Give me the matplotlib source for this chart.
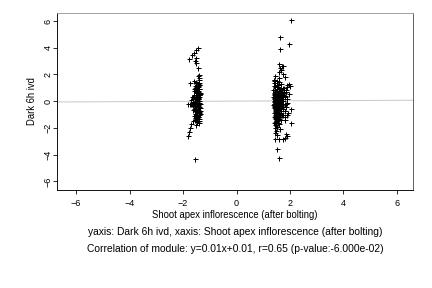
import matplotlib
matplotlib.use("Agg")
import matplotlib.pyplot as plt
import numpy as np

plt.rcParams['font.family'] = ['Liberation Sans', 'DejaVu Sans']

# Left cluster
left_x = [-1.45, -1.52, -1.58, -1.68, -1.78, -1.50, -1.55, -1.50, -1.45, -1.40,
          -1.42, -1.60, -1.75, -1.50, -1.45, -1.40, -1.48, -1.55, -1.42, -1.50,
          -1.60, -1.45, -1.38, -1.52, -1.42, -1.58, -1.48, -1.40, -1.65, -1.50,
          -1.44, -1.55, -1.70, -1.40, -1.50, -1.62, -1.80, -1.75, -1.70, -1.65,
          -1.60, -1.55, -1.50, -1.45, -1.40, -1.38, -1.62, -1.52, -1.47, -1.50,
          -1.42, -1.60, -1.45, -1.55, -1.40, -1.48, -1.52, -1.42, -1.58, -1.45,
          -1.50, -1.40, -1.55, -1.62, -1.48, -1.42, -1.70, -1.52, -1.75, -1.78,
          -1.80, -1.55, -1.46, -1.41, -1.53, -1.44, -1.39, -1.49, -1.43, -1.51,
          -1.47, -1.40, -1.45, -1.50, -1.42, -1.56, -1.44, -1.48, -1.41, -1.46,
          -1.43, -1.52, -1.39, -1.47, -1.42, -1.50, -1.45, -1.41, -1.49, -1.44,
          -1.46, -1.40, -1.52, -1.44, -1.48, -1.42, -1.50, -1.38, -1.54, -1.45,
          -1.58, -1.62, -1.36, -1.57, -1.35, -1.64, -1.37, -1.56]
left_y = [3.95, 3.80, 3.60, 3.45, 3.15, 3.20, 3.00, 2.85, 2.50, 1.95,
          1.75, 1.55, 1.40, 1.45, 1.30, 1.20, 1.10, 1.00, 0.95, 0.85,
          0.75, 0.70, 0.65, 0.60, 0.50, 0.45, 0.40, 0.35, 0.30, 0.25,
          0.20, 0.15, 0.10, 0.05, 0.00, -0.05, -0.22, -0.20, -0.21, -0.20,
          -0.22, -0.19, -0.21, -0.20, -0.22, -0.20, -0.25, -0.24, -0.26, -0.40,
          -0.50, -0.60, -0.65, -0.70, -0.80, -0.90, -1.00, -1.05, -1.10, -1.20,
          -1.30, -1.35, -1.40, -1.50, -1.55, -1.60, -1.70, -1.75, -2.00, -2.30,
          -2.60, -4.30, 1.85, 1.60, 1.35, 1.15, 0.90, 0.80, 0.55, 0.30,
          0.10, -0.10, -0.35, -0.55, -0.75, -0.95, -1.15, -1.25, -0.45, 0.15,
          1.05, 0.68, -0.85, 0.42, -1.45, 0.22, -0.30, 1.25, -0.15, 0.58,
          0.95, 0.48, -0.62, 0.78, -1.05, 1.38, 0.05, -0.72, -0.38, 0.27,
          0.88, 0.32, -0.48, 1.12, -0.92, -0.62, 0.52, -1.22]

# Right cluster
right_x = [1.45, 1.60, 1.52, 1.40, 1.68, 1.55, 1.42, 1.72, 1.50, 1.62,
           1.38, 1.58, 1.47, 1.70, 1.43, 1.65, 1.53, 1.40, 1.75, 1.49,
           1.61, 1.44, 1.56, 1.39, 1.69, 1.51, 1.46, 1.64, 1.41, 1.57,
           1.73, 1.48, 1.42, 1.60, 1.54, 1.39, 1.67, 1.45, 1.58, 1.50,
           1.40, 1.63, 1.47, 1.55, 1.71, 1.43, 1.59, 1.52, 1.38, 1.66,
           1.49, 1.57, 1.41, 1.74, 1.46, 1.62, 1.53, 1.40, 1.68, 1.44,
           1.56, 1.42, 1.65, 1.50, 1.39, 1.60, 1.47, 1.70, 1.45, 1.54,
           1.41, 1.63, 1.48, 1.57, 1.43, 1.66, 1.52, 1.40, 1.58, 1.46,
           1.50, 1.44, 1.62, 1.48, 1.52, 1.58, 1.64, 1.42, 1.70, 1.55,
           1.44, 1.66, 1.40, 1.54, 1.60, 1.47, 1.72, 1.50, 1.43, 1.58,
           1.62, 1.39, 1.56, 1.45, 1.68, 1.41, 1.52, 1.60, 1.48, 1.74,
           1.57, 1.43, 1.65, 1.51, 1.40, 1.55, 1.46, 1.63, 1.49, 1.53,
           1.44, 1.59, 1.47, 1.41, 1.56, 1.64, 1.42, 1.50, 1.69, 1.38,
           1.61, 1.45, 1.53, 1.77, 1.48, 1.67, 1.43, 1.56, 1.51, 1.42,
           1.46, 1.58, 1.41, 1.66, 1.52, 1.44, 1.71, 1.49, 1.39, 1.62,
           1.55, 1.43, 1.68, 1.47, 1.60, 1.40, 1.53, 1.64, 1.45, 1.57,
           1.42, 1.50, 1.61, 1.48, 1.73, 1.44, 1.56, 1.40, 1.65, 1.51,
           2.05, 1.63, 1.95, 1.62, 1.58, 1.70, 1.75, 1.62, 1.68, 1.60,
           1.72, 1.82, 1.88, 1.95, 2.00, 1.90, 1.85, 1.97, 1.82, 1.90,
           1.85, 2.02, 1.92, 1.80, 1.88, 2.05, 1.42, 1.57, 1.72, 1.80,
           1.90, 1.85, 1.53, 1.60, 1.45, 1.50,
           1.40, 1.45, 1.50, 1.55, 1.60, 1.65, 1.70, 1.75, 1.80,
           1.84, 1.80, 1.86, 1.78, 1.83, 1.79, 1.87, 1.81]
right_y = [1.90, 1.70, 1.50, 1.40, 1.30, 1.20, 1.10, 1.00, 0.95, 0.90,
           0.85, 0.80, 0.75, 0.70, 0.65, 0.60, 0.55, 0.50, 0.48, 0.45,
           0.42, 0.40, 0.38, 0.35, 0.32, 0.30, 0.28, 0.25, 0.22, 0.20,
           0.18, 0.15, 0.12, 0.10, 0.08, 0.05, 0.03, 0.00, -0.02, -0.05,
           -0.08, -0.10, -0.12, -0.15, -0.18, -0.20, -0.22, -0.25, -0.28, -0.30,
           -0.32, -0.35, -0.38, -0.40, -0.42, -0.45, -0.48, -0.50, -0.55, -0.60,
           -0.65, -0.70, -0.75, -0.80, -0.85, -0.90, -0.95, -1.00, -1.05, -1.10,
           -1.15, -1.20, -1.25, -1.30, -1.35, -1.40, -1.50, -1.60, -1.70, -1.80,
           -1.90, -2.00, -2.10, -2.20, 0.30, 0.10, -0.10, -0.30, 0.50, -0.50,
           0.00, 0.20, -0.20, 0.40, -0.40, 0.60, -0.60, 0.80, -0.80, 1.00,
           -1.00, 0.15, -0.15, 0.35, -0.35, 0.55, -0.55, 0.75, -0.75, 0.05,
           -0.05, 0.25, -0.25, 0.45, -0.45, 0.65, -0.65, 0.90, -0.90, 1.25,
           -1.25, 1.45, -1.45, 1.60, -1.65, 0.12, -0.12, 0.02, -0.02, 0.33,
           -0.33, 0.50, -0.60, 0.70, -0.70, 0.90, -1.10, 1.10, -1.30, 1.35,
           0.62, -0.42, 1.15, -0.88, 0.28, -1.18, 0.82, -0.18, 1.52, -0.58,
           0.38, -1.52, 0.72, -0.28, -0.98, 1.62, -0.08, 0.48, -1.78, 0.92,
           -0.68, 1.22, -0.38, 0.18, -1.02, 0.08, -1.38, 0.58, -0.48, -1.92,
           6.05, 4.80, 4.25, 3.90, 2.75, 2.65, 2.60, 2.45, 2.30, 2.15,
           2.00, 1.80, 1.25, 1.30, 1.15, 1.05, 0.70, 0.55, 0.40, 0.15,
           -0.20, -0.60, -0.90, -0.75, -1.05, -1.65, -2.85, -2.85, -2.85, -2.75,
           -2.60, -2.45, -3.58, -4.25, -2.40, -2.55,
           -0.20, -0.20, -0.20, -0.20, -0.20, -0.20, -0.20, -0.20, -0.20,
           0.85, 0.35, -0.45, 1.00, -1.20, 0.60, -0.10, -1.40]

x_ticks = [-6, -4, -2, 0, 2, 4, 6]
y_ticks = [-6, -4, -2, 0, 2, 4, 6]
slope, intercept = 0.01, 0.01

fig = plt.figure(figsize=(6, 4), dpi=72)
ax = fig.add_axes([0.133, 0.342, 0.823, 0.613])

xs = left_x + right_x
ys = left_y + right_y
ax.plot(xs, ys, '+', color='black', markersize=5, markeredgewidth=1.0)

xl = np.array([-6.7, 6.6])
ax.plot(xl, slope * xl + intercept, color='#c8c8c8', lw=1, zorder=0)

ax.set_xlim(-6.7, 6.6)
ax.set_ylim(-6.6, 6.6)
ax.set_xticks(x_ticks)
ax.set_yticks(y_ticks)
ax.tick_params(direction='out', length=4, width=0.8, labelsize=9)
ax.tick_params(axis='x', pad=5)
ax.tick_params(axis='y', pad=1)
for lab in ax.get_yticklabels():
    lab.set_rotation(90)
    lab.set_va('center')

ax.spines['left'].set_color('black')
ax.spines['bottom'].set_color('black')
ax.spines['top'].set_color('#999999')
ax.spines['right'].set_color('#555555')
for s in ax.spines.values():
    s.set_linewidth(0.9)

ax.set_xlabel('Shoot apex inflorescence (after bolting)', fontsize=9.5, labelpad=2)
ax.set_ylabel('Dark 6h ivd', fontsize=9.5, labelpad=6)

fig.text(0.545, 1 - 232 / 288, 'yaxis: Dark 6h ivd, xaxis: Shoot apex inflorescence (after bolting)',
         ha='center', va='center', fontsize=10.2)
fig.text(0.545, 1 - 249 / 288, 'Correlation of module: y=0.01x+0.01, r=0.65 (p-value:-6.000e-02)',
         ha='center', va='center', fontsize=10.2)

fig.savefig('out.png', dpi=72)
